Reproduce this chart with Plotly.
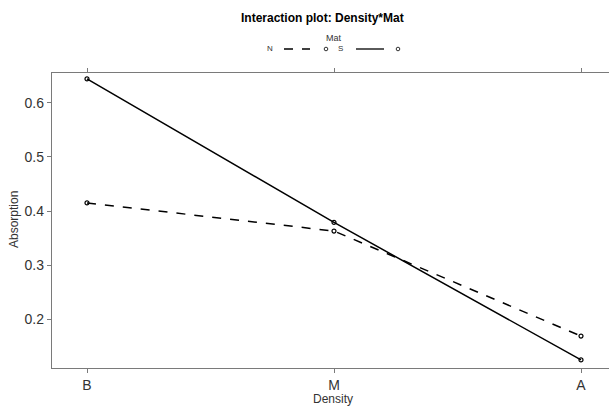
import plotly.graph_objects as go

density = ["B", "M", "A"]
mat_levels = ["N", "S"]
absorption_N = [0.415, 0.363, 0.169]
absorption_S = [0.644, 0.379, 0.125]
y_ticks = [0.2, 0.3, 0.4, 0.5, 0.6]

W, H = 609, 409
L, R, T, B = 52, 0, 73, 41
pw, ph = W - L - R, H - T - B

def px(x):
    return (x - L) / pw

def py(y):
    return (H - B - y) / ph

fig = go.Figure()
styles = {"N": "dash", "S": "solid"}
series = {"N": absorption_N, "S": absorption_S}
for m in mat_levels:
    fig.add_trace(go.Scatter(
        x=[0, 1, 2], y=series[m], mode="lines+markers", name=m,
        line=dict(color="black", width=1.5, dash=styles[m]),
        marker=dict(symbol="circle-open", size=4, color="black", line=dict(width=1.2)),
        showlegend=False))

axis_col = "#7a7a7a"
fig.update_layout(
    width=W, height=H,
    margin=dict(l=L, r=R, t=T, b=B),
    paper_bgcolor="white", plot_bgcolor="white",
    font=dict(family="Liberation Sans, Arial, sans-serif", color="#333"),
    xaxis=dict(range=[-35/247, 2 + 28/247], tickvals=[0, 1, 2], ticktext=density,
               automargin=False,
               showgrid=False, zeroline=False, showline=True, linecolor=axis_col,
               linewidth=1.3, mirror="ticks", ticks="outside", ticklen=4,
               tickcolor=axis_col, tickfont=dict(size=14, color="#333")),
    yaxis=dict(range=[0.110, 0.655], tickvals=y_ticks,
               ticktext=[f"{v:.1f}" for v in y_ticks],
               automargin=False,
               showgrid=False, zeroline=False, showline=True, linecolor=axis_col,
               linewidth=1.3, mirror=False, ticks="outside", ticklen=4,
               tickcolor=axis_col, tickfont=dict(size=14, color="#333")),
)

def label(text, x, y, size, color="#333", angle=0):
    fig.add_annotation(text=text, xref="paper", yref="paper", x=px(x), y=py(y),
                       xanchor="center", yanchor="middle", textangle=angle,
                       showarrow=False, font=dict(size=size, color=color))

# Title and axis titles
label("<b>Interaction plot: Density*Mat</b>", 322, 18, 12, "black")
label("Density", 333, 399, 12)
label("Absorption", 14, 220, 12, angle=-90)
# Legend
label("Mat", 334, 38, 9)
label("N", 270, 49, 8)
label("S", 340, 49, 8)
fig.add_shape(type="line", xref="paper", yref="paper", x0=px(284), x1=px(310),
              y0=py(49), y1=py(49), line=dict(color="black", width=1.3, dash="dash"))
fig.add_shape(type="line", xref="paper", yref="paper", x0=px(356), x1=px(384),
              y0=py(49), y1=py(49), line=dict(color="black", width=1.3))
for cx in (326, 398):
    fig.add_shape(type="circle", xref="paper", yref="paper",
                  x0=px(cx - 1.8), x1=px(cx + 1.8), y0=py(47.2), y1=py(50.8),
                  line=dict(color="black", width=0.8))

fig.write_html("out.html", config={"displayModeBar": False},
               post_script="document.body.style.margin='0';document.body.style.overflow='hidden';")
